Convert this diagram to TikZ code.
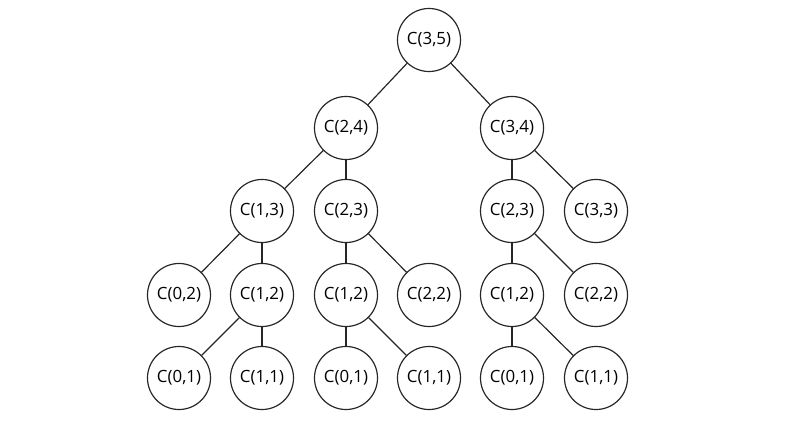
\documentclass[tikz,border=0pt]{standalone}
\usepackage{fontspec}
\setmainfont{Open Sans}
\begin{document}
\begin{tikzpicture}[x=0.025cm,y=-0.025cm,
  tnode/.style={circle,draw=black!85,line width=0.85pt,minimum size=1.575cm,inner sep=0pt,font=\fontsize{12}{14}\selectfont,text=black},
  tedge/.style={draw=black!85,line width=0.85pt}]
\useasboundingbox (0,0) rectangle (800,420);
\node[tnode] (r) at (429,40) {C(3,5)};
\node[tnode] (a) at (346,128) {C(2,4)};
\node[tnode] (b) at (512,128) {C(3,4)};
\node[tnode] (a1) at (262,211) {C(1,3)};
\node[tnode] (a2) at (346,211) {C(2,3)};
\node[tnode] (b1) at (512,211) {C(2,3)};
\node[tnode] (b2) at (596,211) {C(3,3)};
\node[tnode] (c1) at (179,295) {C(0,2)};
\node[tnode] (c2) at (262,295) {C(1,2)};
\node[tnode] (c3) at (346,295) {C(1,2)};
\node[tnode] (c4) at (429,295) {C(2,2)};
\node[tnode] (c5) at (512,295) {C(1,2)};
\node[tnode] (c6) at (596,295) {C(2,2)};
\node[tnode] (d1) at (179,378) {C(0,1)};
\node[tnode] (d2) at (262,378) {C(1,1)};
\node[tnode] (d3) at (346,378) {C(0,1)};
\node[tnode] (d4) at (429,378) {C(1,1)};
\node[tnode] (d5) at (512,378) {C(0,1)};
\node[tnode] (d6) at (596,378) {C(1,1)};
\draw[tedge] (r)--(a);
\draw[tedge] (r)--(b);
\draw[tedge] (a)--(a1);
\draw[tedge] (a)--(a2);
\draw[tedge] (b)--(b1);
\draw[tedge] (b)--(b2);
\draw[tedge] (a1)--(c1);
\draw[tedge] (a1)--(c2);
\draw[tedge] (a2)--(c3);
\draw[tedge] (a2)--(c4);
\draw[tedge] (b1)--(c5);
\draw[tedge] (b1)--(c6);
\draw[tedge] (c2)--(d1);
\draw[tedge] (c2)--(d2);
\draw[tedge] (c3)--(d3);
\draw[tedge] (c3)--(d4);
\draw[tedge] (c5)--(d5);
\draw[tedge] (c5)--(d6);
\end{tikzpicture}
\end{document}
